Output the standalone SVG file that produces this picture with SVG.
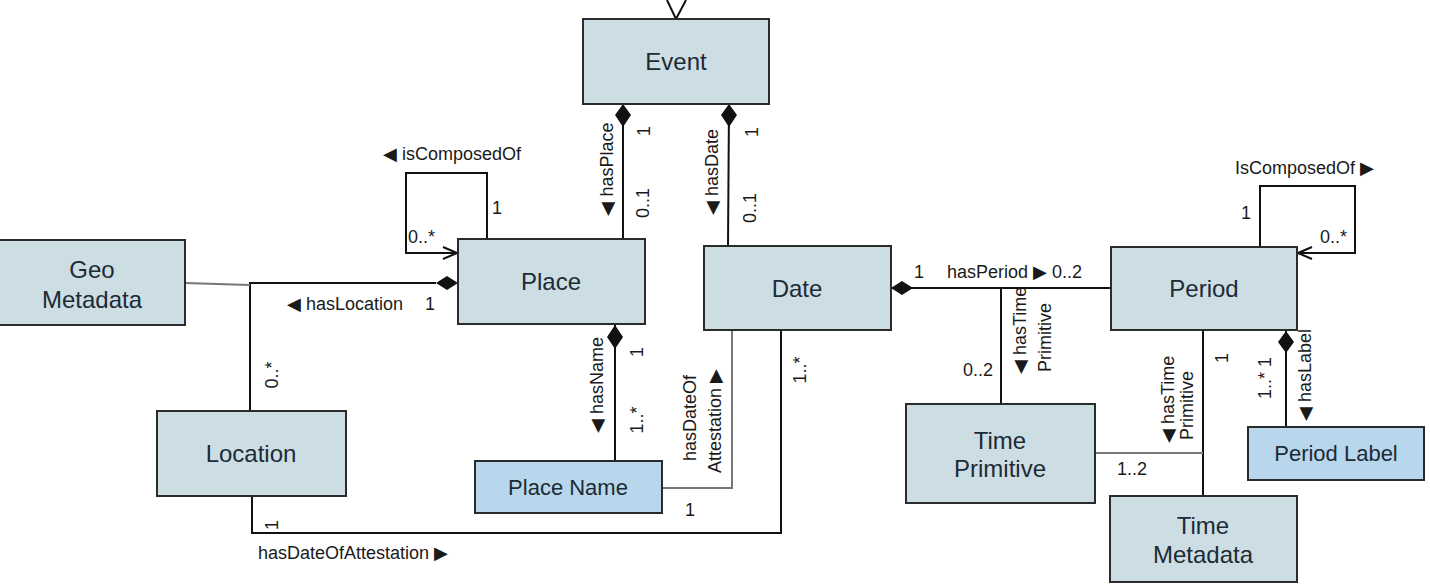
<svg xmlns="http://www.w3.org/2000/svg" width="1430" height="588" viewBox="0 0 1430 588">
<style>
.box{fill:#cddde4;stroke:#2b2b2b;stroke-width:2}
.lbox{fill:#b9d7ec;stroke:#2b2b2b;stroke-width:2}
.nt{font-family:"Liberation Sans",Arial,sans-serif;font-size:24px;fill:#1c2b35;text-anchor:middle}
.lt{font-family:"Liberation Sans",Arial,sans-serif;font-size:22px;fill:#1c2b35;text-anchor:middle}
.c{fill:none;stroke:#111;stroke-width:2}
.g{fill:none;stroke:#777;stroke-width:2}
.d{fill:#111;stroke:none}
.s{font-family:"Liberation Sans",Arial,sans-serif;font-size:18px;fill:#1a1a1a}
.m{text-anchor:middle}
.e{text-anchor:end}
</style>
<defs>
<marker id="open" viewBox="0 0 16 14" refX="15" refY="7" markerWidth="16" markerHeight="14" markerUnits="userSpaceOnUse" orient="auto">
<path d="M1,1 L15,7 L1,13" fill="none" stroke="#111" stroke-width="2"/>
</marker>
</defs>
<rect width="1430" height="588" fill="#ffffff"/>

<g id="connectors">
<path class="c" d="M667,0 L676,19 L686,0"/>
<line class="c" x1="623" y1="104" x2="623" y2="239"/>
<polygon class="d" points="623,104 631,115 623,127 615,115"/>
<line class="c" x1="729" y1="104" x2="728" y2="246"/>
<polygon class="d" points="729,104 737,115 729,127 721,115"/>
<polyline class="c" points="487,239 487,173 406,173 406,253 457,253" marker-end="url(#open)"/>
<polyline class="c" points="436,283 250,283 250,411"/>
<polygon class="d" points="458,283 447,276 436,283 447,290"/>
<line class="g" x1="185" y1="283" x2="250" y2="285"/>
<polyline class="c" points="252,496 252,533 781,533 781,330"/>
<line class="c" x1="615" y1="324" x2="615" y2="461"/>
<polygon class="d" points="615,325 623,337 615,349 607,337"/>
<polyline class="g" points="662,488 732,488 732,330"/>
<line class="c" x1="891" y1="288" x2="1111" y2="288"/>
<polygon class="d" points="891,288 902,281 913,288 902,295"/>
<line class="c" x1="1001" y1="288" x2="1001" y2="404"/>
<line class="c" x1="1203" y1="330" x2="1203" y2="496"/>
<line class="g" x1="1095" y1="453" x2="1203" y2="453"/>
<line class="c" x1="1286" y1="330" x2="1286" y2="427"/>
<polygon class="d" points="1286,331 1294,342 1286,353 1278,342"/>
<polyline class="c" points="1260,247 1260,186 1355,186 1355,253 1298,253" marker-end="url(#open)"/>
</g>

<g id="labels">
<text class="s" x="383" y="160">◀ isComposedOf</text>
<text class="s m" x="497" y="214">1</text>
<text class="s" x="408" y="243">0..*</text>
<text class="s" x="287" y="310">◀ hasLocation</text>
<text class="s m" x="430" y="310">1</text>
<text class="s" x="258" y="559">hasDateOfAttestation ▶</text>
<text class="s m" x="690" y="516">1</text>
<text class="s m" transform="translate(278,375) rotate(-90)">0..*</text>
<text class="s m" transform="translate(278,525) rotate(-90)">1</text>
<text class="s m" transform="translate(613,169) rotate(-90)">◀ hasPlace</text>
<text class="s m" transform="translate(650,131) rotate(-90)">1</text>
<text class="s m" transform="translate(649,203) rotate(-90)">0..1</text>
<text class="s m" transform="translate(718,172) rotate(-90)">◀ hasDate</text>
<text class="s m" transform="translate(758,132) rotate(-90)">1</text>
<text class="s m" transform="translate(756,208) rotate(-90)">0..1</text>
<text class="s m" transform="translate(603,385) rotate(-90)">◀ hasName</text>
<text class="s m" transform="translate(643,352) rotate(-90)">1</text>
<text class="s m" transform="translate(643,420) rotate(-90)">1..*</text>
<text class="s m" transform="translate(696,418) rotate(-90)">hasDateOf</text>
<text class="s m" transform="translate(721,421) rotate(-90)">Attestation ▶</text>
<text class="s m" transform="translate(806,370) rotate(-90)">1..*</text>
<text class="s m" x="919" y="278">1</text>
<text class="s" x="947" y="278">hasPeriod ▶ 0..2</text>
<text class="s" transform="translate(1026,374) rotate(-90)">◀ hasTime</text>
<text class="s" transform="translate(1051,372) rotate(-90)">Primitive</text>
<text class="s e" x="993" y="376">0..2</text>
<text class="s" transform="translate(1174,443) rotate(-90)">◀ hasTime</text>
<text class="s" transform="translate(1193,440) rotate(-90)">Primitive</text>
<text class="s" x="1117" y="475">1..2</text>
<text class="s m" transform="translate(1228,358) rotate(-90)">1</text>
<text class="s m" transform="translate(1271,378) rotate(-90)">1..*  1</text>
<text class="s m" transform="translate(1311,375) rotate(-90)">◀ hasLabel</text>
<text class="s" x="1235" y="174">IsComposedOf ▶</text>
<text class="s m" x="1246" y="219">1</text>
<text class="s" x="1320" y="243">0..*</text>
</g>

<g id="event"><rect class="box" x="583" y="19" width="186" height="85"/><text class="nt" x="676" y="70">Event</text></g>
<g id="place"><rect class="box" x="458" y="239" width="187" height="85"/><text class="nt" x="551" y="290">Place</text></g>
<g id="date"><rect class="box" x="704" y="246" width="187" height="84"/><text class="nt" x="797" y="297">Date</text></g>
<g id="geo-metadata"><rect class="box" x="-2" y="240" width="187" height="85"/><text class="nt" x="92" y="278">Geo</text><text class="nt" x="92" y="308">Metadata</text></g>
<g id="location"><rect class="box" x="157" y="411" width="189" height="85"/><text class="nt" x="251" y="462">Location</text></g>
<g id="place-name"><rect class="lbox" x="475" y="461" width="187" height="52"/><text class="lt" x="568" y="495">Place Name</text></g>
<g id="period"><rect class="box" x="1111" y="247" width="186" height="83"/><text class="nt" x="1204" y="297">Period</text></g>
<g id="time-primitive"><rect class="box" x="906" y="404" width="189" height="99"/><text class="nt" x="1000" y="449">Time</text><text class="nt" x="1000" y="477">Primitive</text></g>
<g id="time-metadata"><rect class="box" x="1110" y="496" width="187" height="86"/><text class="nt" x="1203" y="534">Time</text><text class="nt" x="1203" y="563">Metadata</text></g>
<g id="period-label"><rect class="lbox" x="1248" y="427" width="176" height="53"/><text class="lt" x="1336" y="461">Period Label</text></g>
</svg>
